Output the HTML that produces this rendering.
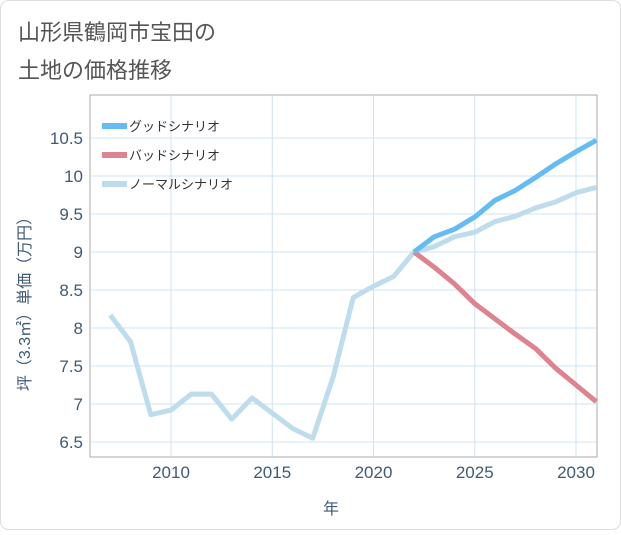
<!DOCTYPE html>
<html><head><meta charset="utf-8"><style>
body{margin:0;background:#fff;font-family:"Liberation Sans","Noto Sans CJK JP",sans-serif;}
#wrap{position:relative;width:621px;height:530px;}
</style></head><body>
<div id="wrap">
<svg id="c" width="621" height="530" xmlns="http://www.w3.org/2000/svg">
<rect x="0.5" y="0.5" width="620" height="529" rx="8" fill="#fff" stroke="#ddd"/>
<text x="18" y="40" font-size="22" fill="#555" font-family="Liberation Sans, Noto Sans CJK JP, sans-serif">山形県鶴岡市宝田の</text>
<text x="18" y="78" font-size="22" fill="#555" font-family="Liberation Sans, Noto Sans CJK JP, sans-serif">土地の価格推移</text>
<rect x="90" y="95" width="507" height="362" fill="none" stroke="#aaa"/>
<g id="grid"></g><g id="ticks"></g><g id="series"></g><g id="legend"></g>
<text x="331" y="514" font-size="16" fill="#3f5a75" text-anchor="middle" font-family="Liberation Sans, Noto Sans CJK JP, sans-serif">年</text>
<text transform="translate(30,300) rotate(-90)" font-size="16" fill="#3f5a75" text-anchor="middle" font-family="Liberation Sans, Noto Sans CJK JP, sans-serif">坪（3.3㎡）単価（万円）</text>
</svg>
</div>
<script>
const years=[2007,2008,2009,2010,2011,2012,2013,2014,2015,2016,2017,2018,2019,2020,2021,2022,2023,2024,2025,2026,2027,2028,2029,2030,2031];
const normalValues=[8.17,7.82,6.86,6.92,7.13,7.13,6.80,7.08,6.88,6.68,6.55,7.35,8.40,8.55,8.68,9.0,9.07,9.2,9.26,9.40,9.47,9.58,9.66,9.78,9.85];
const futureYears=[2022,2023,2024,2025,2026,2027,2028,2029,2030,2031];
const goodValues=[9.0,9.2,9.3,9.46,9.68,9.81,9.98,10.16,10.32,10.47];
const badValues=[9.0,8.8,8.58,8.32,8.12,7.92,7.73,7.47,7.25,7.03];
const xTicks=[2010,2015,2020,2025,2030];
const yTicks=[6.5,7,7.5,8,8.5,9,9.5,10,10.5];
const seriesNames=["グッドシナリオ","バッドシナリオ","ノーマルシナリオ"];
const NS="http://www.w3.org/2000/svg";
const xs=y=>171+(y-2010)*20.25;
const ys=v=>442-(v-6.5)*76;
function mk(t,a,p){const e=document.createElementNS(NS,t);for(const k in a)e.setAttribute(k,a[k]);p.appendChild(e);return e;}
const grid=document.getElementById('grid'),ticks=document.getElementById('ticks'),ser=document.getElementById('series'),leg=document.getElementById('legend');
xTicks.forEach(t=>{
 const l=mk('line',{x1:xs(t),x2:xs(t),y1:95,y2:457,stroke:'#cfe3f0'},grid);
 
 
 const tx=mk('text',{x:xs(t),y:478,'font-size':17,fill:'#3f5a75','text-anchor':'middle'},ticks);
 tx.textContent=t;
 
 
});
yTicks.forEach(t=>{
 const l=mk('line',{x1:90,x2:597,y1:ys(t),y2:ys(t),stroke:'#cfe3f0'},grid);
 
 
 const tx=mk('text',{x:83,y:ys(t)+6,'font-size':17,fill:'#3f5a75','text-anchor':'end'},ticks);
 tx.textContent=t;
 
 
});
function line(xv,yv,color,name){
 const p=mk('polyline',{points:xv.map((x,i)=>xs(x)+','+ys(yv[i])).join(' '),fill:'none',stroke:color,'stroke-width':5,'stroke-linejoin':'round'},ser);
 
 
}
line(years,normalValues,'#bfdcec','normal-scenario-line');
line(futureYears,badValues,'#dc8490','bad-scenario-line');
line(futureYears,goodValues,'#66bbf0','good-scenario-line');
const colors=['#66bbf0','#dc8490','#bfdcec'];
seriesNames.forEach((n,i)=>{
 const y=126+i*29;
 const l=mk('line',{x1:102,x2:127,y1:y,y2:y,stroke:colors[i],'stroke-width':6},leg);
 
 
 const t=mk('text',{x:129,y:y+5,'font-size':13,fill:'#333'},leg);
 t.textContent=n;
 
 
});
</script>
</body></html>
